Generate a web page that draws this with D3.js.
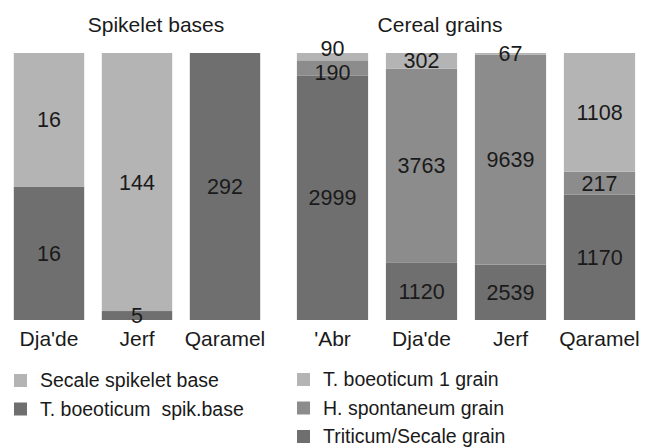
<!DOCTYPE html>
<html>
<head>
<meta charset="utf-8">
<script src="https://cdn.jsdelivr.net/npm/d3@7"></script>
<style>
  html, body { margin: 0; padding: 0; background: #fff; }
  text { font-family: "Liberation Sans", Arial, sans-serif; fill: #1a1a1a; }
</style>
</head>
<body>
<svg id="chart" width="646" height="447"></svg>
<script>
// ---- Data ----
const spikeletSites = ["Dja'de", "Jerf", "Qaramel"];
const secaleSpikeletBase = [16, 144, 0];
const tboeoticumSpikBase = [16, 5, 292];
const spikeletSeriesNames = ["Secale spikelet base", "T. boeoticum  spik.base"];

const grainSites = ["'Abr", "Dja'de", "Jerf", "Qaramel"];
const tboeoticum1Grain = [90, 302, 67, 1108];
const hspontaneumGrain = [190, 3763, 9639, 217];
const triticumSecaleGrain = [2999, 1120, 2539, 1170];
const grainSeriesNames = ["T. boeoticum 1 grain", "H. spontaneum grain", "Triticum/Secale grain"];

const groupTitles = ["Spikelet bases", "Cereal grains"];

// ---- Styles ----
const cLight = "#b4b4b4", cMid = "#8c8c8c", cDark = "#6f6f6f";

const svg = d3.select("#chart");
const y = d3.scaleLinear().domain([0, 1]).range([320, 53]);

function drawGroup(sites, seriesList, colors, range) {
  // seriesList ordered bottom -> top
  const x = d3.scaleBand().domain(sites).range(range).paddingInner(0.2).paddingOuter(0.1);
  const rows = sites.map((s, i) => {
    const r = { site: s };
    seriesList.forEach((arr, k) => r["s" + k] = arr[i]);
    return r;
  });
  const keys = seriesList.map((_, k) => "s" + k);
  const stack = d3.stack().keys(keys).offset(d3.stackOffsetExpand);
  const layers = stack(rows);
  const g = svg.append("g");
  layers.forEach((layer, k) => {
    g.selectAll(null).data(layer).enter().append("rect")
      .attr("x", d => x(d.data.site))
      .attr("width", x.bandwidth())
      .attr("y", d => y(d[1]))
      .attr("height", d => Math.max(0, y(d[0]) - y(d[1])))
      .attr("fill", colors[k]);
  });
  // labels with simple collision avoidance (bottom -> top)
  const minSep = 24;
  sites.forEach((s, i) => {
    const labs = [];
    layers.forEach((layer, k) => {
      const d = layer[i];
      const v = seriesList[k][i];
      if (!v) return;
      labs.push({ v, cy: (y(d[0]) + y(d[1])) / 2 });
    });
    for (let j = 1; j < labs.length; j++) {
      const gap = labs[j - 1].cy - labs[j].cy;
      if (gap < minSep) {
        const deficit = minSep - gap;
        labs[j - 1].cy += deficit / 3;
        labs[j].cy = labs[j - 1].cy - minSep;
      }
    }
    labs.forEach(l => {
      g.append("text")
        .attr("x", x(s) + x.bandwidth() / 2)
        .attr("y", l.cy)
        .attr("dy", "0.35em")
        .attr("text-anchor", "middle")
        .style("font-size", "21.5px")
        .text(l.v);
    });
  });
  // axis (category labels)
  const axis = d3.axisBottom(x).tickSize(0).tickPadding(0);
  const ag = svg.append("g").attr("transform", "translate(0,331)").call(axis);
  ag.select(".domain").remove();
  ag.selectAll("text")
    .attr("dy", "0.71em")
    .style("font-size", "21px")
    .style("font-family", "'Liberation Sans', Arial, sans-serif")
    .attr("fill", "#1a1a1a");
  return x;
}

drawGroup(spikeletSites, [tboeoticumSpikBase, secaleSpikeletBase], [cDark, cLight], [5, 269]);
drawGroup(grainSites, [triticumSecaleGrain, hspontaneumGrain, tboeoticum1Grain], [cDark, cMid, cLight], [288, 644]);

// titles
svg.append("text").attr("x", 156).attr("y", 32).attr("text-anchor", "middle")
  .style("font-size", "21px").text(groupTitles[0]);
svg.append("text").attr("x", 440).attr("y", 32).attr("text-anchor", "middle")
  .style("font-size", "21px").text(groupTitles[1]);

// legends
function legend(names, colors, x0, y0, step) {
  const lg = svg.append("g");
  names.forEach((n, i) => {
    const yy = y0 + i * step;
    lg.append("rect").attr("x", x0).attr("y", yy - 13).attr("width", 13).attr("height", 13).attr("fill", colors[i]);
    lg.append("text").attr("x", x0 + 26).attr("y", yy).style("font-size", "19.5px")
      .style("white-space", "pre").text(n);
  });
}
legend(spikeletSeriesNames, [cLight, cDark], 14, 387, 28.5);
legend(grainSeriesNames, [cLight, cMid, cDark], 297, 386, 28.5);
</script>
</body>
</html>
